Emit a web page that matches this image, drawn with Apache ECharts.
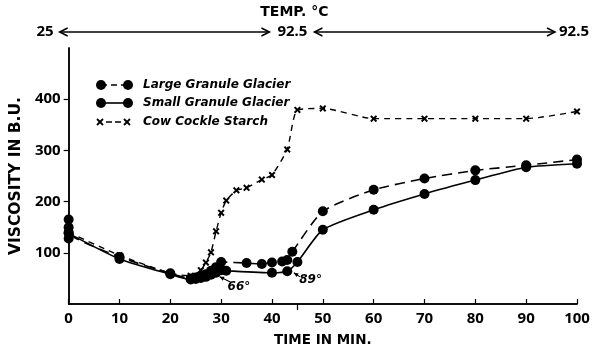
<!DOCTYPE html>
<html><head><meta charset="utf-8">
<script src="https://cdn.jsdelivr.net/npm/echarts@6/dist/echarts.min.js"></script>
<style>html,body{margin:0;padding:0;background:#fff}#c{width:593px;height:354px}</style>
</head><body><div id="c"></div>
<script>
// ---- data (time in min, viscosity in B.U.) ----
const largeGranule = [[0,165],[0,150],[0,140],[10,92],[20,60],[24,50],[25,52],[26,55],[27,58],[28,65],[29,72],[30,82],[35,80],[38,78],[40,81],[42,83],[43,86],[44,102],[50,181],[60,223],[70,245],[80,261],[90,271],[100,282]];
const smallGranule = [[0,128],[0,138],[10,88],[20,58],[24,48],[25,49],[26,51],[27,53],[28,57],[29,61],[30,66],[31,65],[40,61],[43,64],[45,82],[50,145],[60,184],[70,215],[80,242],[90,267],[100,274]];
const cowCockle = [[0,140],[10,95],[20,60],[24,55],[26,66],[27,81],[28,101],[29,142],[30,178],[31,202],[33,222],[35,227],[38,243],[40,252],[43,302],[45,379],[50,382],[60,362],[70,362],[80,362],[90,362],[100,376]];
const seriesNames = ['Large Granule Glacier','Small Granule Glacier','Cow Cockle Starch'];
const yTickLabels = [100,200,300,400];
const tempTitle = 'TEMP. °C';
const tempLabels = ['25','92.5','92.5'];
const tempTimes = [0,45,100];
const annotations = [
  {text:'66°', at:[33.5,34], from:[32.2,41], to:[29.7,53]},
  {text:'89°', at:[47.6,48], from:[45.5,53], to:[44.3,61]}
];

const FONT = 'Noto Sans';
const WIDE = 'DejaVu Sans';
const xShape = 'path://M0,2L2,0L5,3L8,0L10,2L7,5L10,8L8,10L5,7L2,10L0,8L3,5Z';
const chart = echarts.init(document.getElementById('c'));
const option = {
  animation:false,
  backgroundColor:'#fff',
  grid:{left:67,right:16,top:48,bottom:50},
  xAxis:[{
    type:'value',min:0,max:100,interval:10,position:'bottom',
    name:'TIME IN MIN.',nameLocation:'middle',nameGap:29,
    nameTextStyle:{fontFamily:WIDE,fontWeight:'bold',fontSize:13.5,color:'#000'},
    axisLine:{lineStyle:{color:'#000',width:1.5}},
    axisTick:{inside:true,length:5,lineStyle:{color:'#000',width:1.2}},
    axisLabel:{fontFamily:FONT,fontWeight:'bold',fontSize:15,color:'#000',margin:7},
    splitLine:{show:false}
  },{
    type:'value',min:0,max:100,position:'top',
    axisLine:{show:true,lineStyle:{color:'#000',width:1.5}},
    axisTick:{show:true,inside:true,length:6,customValues:[45],lineStyle:{color:'#000',width:1.2}},
    axisLabel:{show:false},splitLine:{show:false}
  }],
  yAxis:[{
    type:'value',min:0,max:500,interval:100,
    name:'VISCOSITY IN B.U.',nameLocation:'middle',nameGap:43,nameRotate:90,
    nameTextStyle:{fontFamily:WIDE,fontWeight:'bold',fontSize:15.5,color:'#000'},
    axisLine:{show:true,lineStyle:{color:'#000',width:1.5}},
    axisTick:{show:true,inside:false,length:5,customValues:yTickLabels,lineStyle:{color:'#000',width:1.2}},
    axisLabel:{fontFamily:FONT,fontWeight:'bold',fontSize:15,color:'#000',margin:8,customValues:yTickLabels},
    splitLine:{show:false}
  },{
    type:'value',min:0,max:500,position:'right',
    axisLine:{show:true,lineStyle:{color:'#000',width:1.5}},
    axisTick:{show:false},axisLabel:{show:false},splitLine:{show:false}
  }],
  series:[{
    name:seriesNames[0],type:'line',data:largeGranule,smooth:0.2,
    symbol:'circle',symbolSize:10,
    itemStyle:{color:'#000'},
    lineStyle:{color:'#000',width:1.6,type:[10,6]}
  },{
    name:seriesNames[1],type:'line',data:smallGranule,smooth:0.2,
    symbol:'circle',symbolSize:10,
    itemStyle:{color:'#000'},
    lineStyle:{color:'#000',width:1.6,type:'solid'}
  },{
    name:seriesNames[2],type:'line',data:cowCockle,smooth:0.2,
    symbol:xShape,symbolSize:7,
    itemStyle:{color:'#000'},
    lineStyle:{color:'#000',width:1.4,type:[6,5]}
  }]
};
chart.setOption(option);

// ---- annotations placed from axis scales ----
const px = t => chart.convertToPixel({xAxisIndex:0}, t);
const py = v => chart.convertToPixel({yAxisIndex:0}, v);
const g = [];
const ln = (x1,y1,x2,y2,w,dash) => ({type:'line',shape:{x1,y1,x2,y2},style:{stroke:'#000',lineWidth:w||1.3,lineDash:dash||null},silent:true});
const txt = (x,y,s,opts) => ({type:'text',x,y,style:Object.assign({text:s,fill:'#000',font:'bold 14px "'+FONT+'"',align:'center',verticalAlign:'middle'},opts||{}),silent:true});
function dblArrow(x1,x2,y){
  g.push(ln(x1,y,x2,y,1.3));
  g.push({type:'polyline',shape:{points:[[x1+8,y-4],[x1,y],[x1+8,y+4]]},style:{stroke:'#000',lineWidth:1.5,fill:null},silent:true});
  g.push({type:'polyline',shape:{points:[[x2-8,y-4],[x2,y],[x2-8,y+4]]},style:{stroke:'#000',lineWidth:1.5,fill:null},silent:true});
}
const p0 = px(tempTimes[0]), p1 = px(tempTimes[1]), p2 = px(tempTimes[2]);
const ty = 32;
g.push(txt(p1-3, 12, tempTitle, {font:'bold 14px "'+WIDE+'"'}));
g.push(txt(p0-15, ty, tempLabels[0], {align:'right',font:'bold 15px "'+FONT+'"'}));
dblArrow(p0-9, p1-28, ty);
g.push(txt(p1-5, ty, tempLabels[1], {font:'bold 15px "'+FONT+'"'}));
dblArrow(p1+17, p2-22, ty);
g.push(txt(p2-3, ty, tempLabels[2], {font:'bold 15px "'+FONT+'"'}));

// legend
const legY = [85,103,122];
const lx1 = 101, lx2 = 128, ltx = 143;
g.push(ln(lx1,legY[0],lx2,legY[0],1.6,[6,4]));
g.push({type:'circle',shape:{cx:lx1,cy:legY[0],r:5},style:{fill:'#000'}});
g.push({type:'circle',shape:{cx:lx2,cy:legY[0],r:5},style:{fill:'#000'}});
g.push(ln(lx1,legY[1],lx2,legY[1],1.6));
g.push({type:'circle',shape:{cx:lx1,cy:legY[1],r:5},style:{fill:'#000'}});
g.push({type:'circle',shape:{cx:lx2,cy:legY[1],r:5},style:{fill:'#000'}});
g.push(ln(lx1+5,legY[2],lx2-5,legY[2],1.3,[6,3]));
[lx1-1,lx2-1].forEach(x=>{
  g.push(ln(x-3,legY[2]-3,x+3,legY[2]+3,1.8));
  g.push(ln(x-3,legY[2]+3,x+3,legY[2]-3,1.8));
});
seriesNames.forEach((n,i)=>g.push(txt(ltx,legY[i],n,{align:'left',font:'italic bold 12px "'+WIDE+'"'})));

// temperature point annotations
annotations.forEach(a=>{
  const fx = px(a.from[0]), fy = py(a.from[1]), tx = px(a.to[0]), tyy = py(a.to[1]);
  g.push(ln(fx,fy,tx,tyy,1.1));
  const ang = Math.atan2(tyy-fy, tx-fx), L = 5;
  g.push({type:'polygon',shape:{points:[[tx,tyy],[tx-L*Math.cos(ang-0.45),tyy-L*Math.sin(ang-0.45)],[tx-L*Math.cos(ang+0.45),tyy-L*Math.sin(ang+0.45)]]},style:{fill:'#000'},silent:true});
  g.push(txt(px(a.at[0]), py(a.at[1]), a.text, {font:'italic bold 12px "'+WIDE+'"'}));
});
chart.setOption({graphic:g});
</script>
</body></html>
